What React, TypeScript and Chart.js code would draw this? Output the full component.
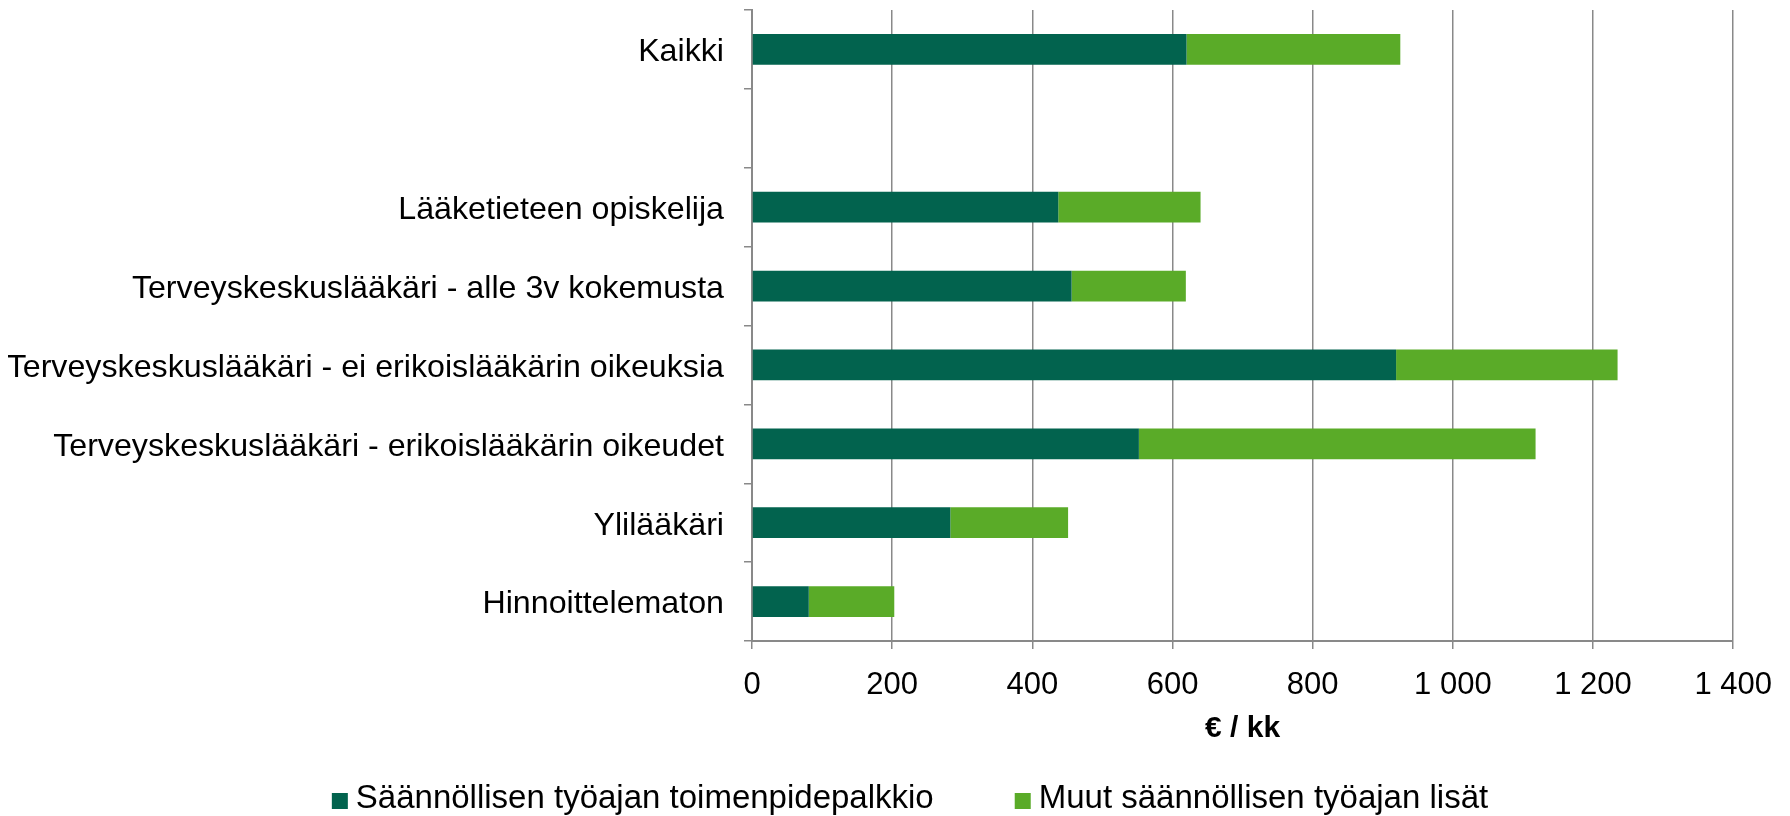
import React, { useEffect, useRef } from 'react';
import { Chart, registerables } from 'chart.js';

Chart.register(...registerables);

const categories = [
  'Kaikki',
  '',
  'Lääketieteen opiskelija',
  'Terveyskeskuslääkäri - alle 3v kokemusta',
  'Terveyskeskuslääkäri - ei erikoislääkärin oikeuksia',
  'Terveyskeskuslääkäri - erikoislääkärin oikeudet',
  'Ylilääkäri',
  'Hinnoittelematon',
];
const seriesNames = ['Säännöllisen työajan toimenpidepalkkio', 'Muut säännöllisen työajan lisät'];
const procedureFees = [620, null, 437, 456, 919, 552, 283, 81];
const otherAllowances = [305, null, 203, 163, 316, 566, 168, 122];
const xMin = 0;
const xMax = 1400;
const xStep = 200;
const axisTitle = '€ / kk';
const seriesColors = ['#02634E', '#5AAB28'];

const FONT = "'Liberation Sans', Arial, sans-serif";
const GRID = '#898989';

const fmt = (v: number) => String(v).replace(/\B(?=(\d{3})+(?!\d))/g, ' ');

const legendPlugin = {
  id: 'customLegend',
  afterDraw(chart: any) {
    const ctx = chart.ctx;
    const ds = chart.data.datasets;
    ctx.save();
    ctx.font = `33px ${FONT}`;
    ctx.textBaseline = 'middle';
    ctx.textAlign = 'left';
    const box = 16;
    const gap = 8;
    const itemGap = 81;
    const widths = ds.map((d: any) => box + gap + ctx.measureText(d.label).width);
    const total = widths.reduce((a: number, b: number) => a + b, 0) + itemGap * (ds.length - 1);
    let x = 910 - total / 2;
    const y = 799;
    ds.forEach((d: any, i: number) => {
      ctx.fillStyle = d.backgroundColor;
      ctx.fillRect(x, y - box / 2 + 2, box, box);
      ctx.fillStyle = '#000';
      ctx.fillText(d.label, x + box + gap, y);
      x += widths[i] + itemGap;
    });
    ctx.restore();
  },
};

export default function App() {
  const ref = useRef<HTMLCanvasElement | null>(null);
  useEffect(() => {
    if (!ref.current) return;
    const chart = new Chart(ref.current, {
      type: 'bar',
      data: {
        labels: categories,
        datasets: [
          {
            label: seriesNames[0],
            data: procedureFees,
            backgroundColor: seriesColors[0],
            barPercentage: 0.39,
            categoryPercentage: 1,
          },
          {
            label: seriesNames[1],
            data: otherAllowances,
            backgroundColor: seriesColors[1],
            barPercentage: 0.39,
            categoryPercentage: 1,
          },
        ],
      },
      options: {
        indexAxis: 'y',
        responsive: false,
        animation: false,
        devicePixelRatio: 1,
        layout: { padding: { left: 8, right: 56, top: 10, bottom: 60 } },
        plugins: {
          legend: { display: false },
          tooltip: { enabled: false },
        },
        scales: {
          x: {
            stacked: true,
            min: xMin,
            max: xMax,
            ticks: {
              stepSize: xStep,
              color: '#000',
              font: { family: FONT, size: 31 },
              padding: 18,
              maxRotation: 0,
              callback: (v: any) => fmt(Number(v)),
            },
            grid: { color: GRID, lineWidth: 1.5, tickLength: 8, drawTicks: true },
            border: { color: GRID, width: 2 },
            title: {
              display: true,
              text: axisTitle,
              color: '#000',
              font: { family: FONT, size: 30, weight: 'bold' },
              padding: { top: 0, bottom: 9 },
            },
            afterFit: (s: any) => {
              s.height = 115;
              s.paddingLeft = 0;
            },
          },
          y: {
            stacked: true,
            offset: true,
            ticks: {
              color: '#000',
              font: { family: FONT, size: 32.2 },
              padding: 20,
              labelOffset: 3,
              autoSkip: false,
            },
            grid: { offset: true, drawOnChartArea: false, color: GRID, lineWidth: 1.5, tickLength: 8 },
            border: { color: GRID, width: 2 },
            afterFit: (s: any) => {
              s.width = 744;
              s.paddingTop = 0;
              s.paddingBottom = 0;
            },
          },
        },
      },
      plugins: [legendPlugin],
    });
    return () => chart.destroy();
  }, []);
  return (
    <div style={{ position: 'absolute', left: 0, top: 0, width: 1790, height: 816, background: '#fff' }}>
      <canvas ref={ref} width={1790} height={816} style={{ display: 'block' }} />
    </div>
  );
}
